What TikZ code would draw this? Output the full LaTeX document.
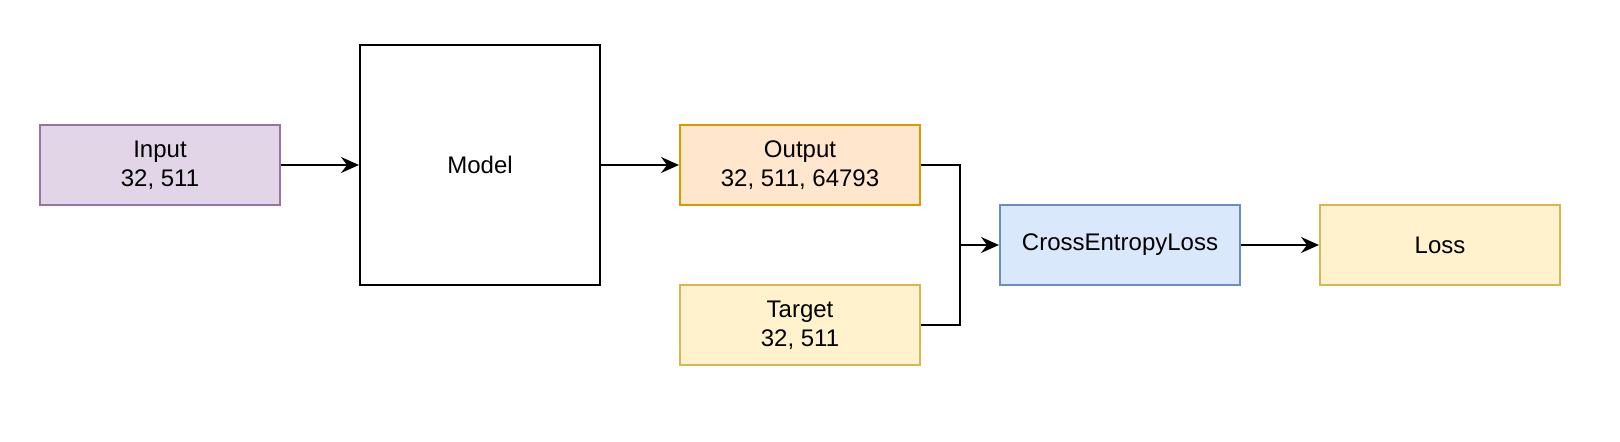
\documentclass[tikz,border=0pt]{standalone}
\usepackage{fontspec}
\setmainfont{Liberation Sans}
\usetikzlibrary{arrows.meta,positioning}
\definecolor{inpurple}{HTML}{E1D5E7}
\definecolor{inpurpleline}{HTML}{9673A6}
\definecolor{outorange}{HTML}{FFE6CC}
\definecolor{outorangeline}{HTML}{D79B00}
\definecolor{tgtyellow}{HTML}{FFF2CC}
\definecolor{tgtyellowline}{HTML}{D6B656}
\definecolor{lossblue}{HTML}{DAE8FC}
\definecolor{lossblueline}{HTML}{6C8EBF}
\tikzset{
  wire/.style={black,line width=1.1pt},
  flow/.style={wire,-{Stealth[length=9pt,width=8pt,inset=3pt]}},
  block/.style={draw=black,line width=1pt,fill=white,minimum width=120pt,
               minimum height=40pt,inner sep=0pt,align=center,
               font=\fontsize{12pt}{14.4pt}\selectfont},
  tensor/.style={block,fill=inpurple,draw=inpurpleline},
  logits/.style={block,fill=outorange,draw=outorangeline},
  labels/.style={block,fill=tgtyellow,draw=tgtyellowline},
  criterion/.style={block,fill=lossblue,draw=lossblueline},
  netbox/.style={block,minimum height=120pt},
}

\begin{document}
\begin{tikzpicture}[x=0.5pt,y=-0.5pt]
  \path[use as bounding box] (0,0) rectangle (1620,442);

  \node[tensor] (input) at (160,165) {Input\\32, 511};
  \node[netbox] (model) at (480,165) {Model};
  \node[logits] (output) at (800,165) {Output\\32, 511, 64793};
  \node[labels] (target) at (800,325) {Target\\32, 511};
  \node[criterion] (celoss) at (1120,245) {CrossEntropyLoss};
  \node[labels] (loss) at (1440,245) {Loss};

  \coordinate (merge) at (960,245);

  \draw[flow] (input) -- (model);
  \draw[flow] (model.east |- output) -- (output);
  \draw[wire] (output.east) -| (merge);
  \draw[wire] (target.east) -| (merge);
  \draw[flow] (merge) -- (celoss);
  \draw[flow] (celoss) -- (loss);
\end{tikzpicture}
\end{document}
